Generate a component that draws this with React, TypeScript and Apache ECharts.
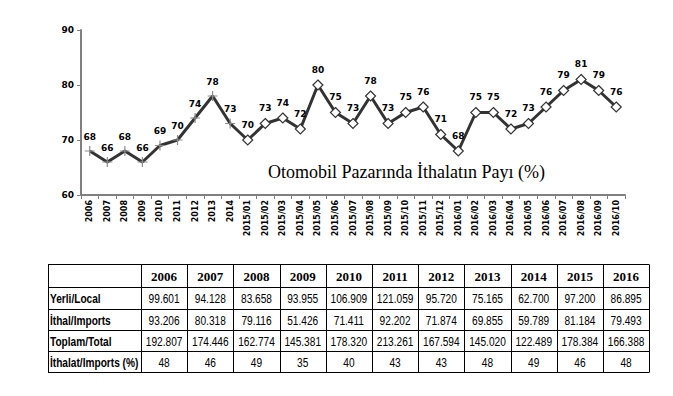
import React, { useEffect, useRef } from "react";
import * as echarts from "echarts";

const categories = [
  "2006", "2007", "2008", "2009", "2010", "2011", "2012", "2013", "2014",
  "2015/01", "2015/02", "2015/03", "2015/04", "2015/05", "2015/06", "2015/07", "2015/08", "2015/09", "2015/10", "2015/11", "2015/12",
  "2016/01", "2016/02", "2016/03", "2016/04", "2016/05", "2016/06", "2016/07", "2016/08", "2016/09", "2016/10",
];
const shareValues = [
  68, 66, 68, 66, 69, 70, 74, 78, 73,
  70, 73, 74, 72, 80, 75, 73, 78, 73, 75, 76, 71,
  68, 75, 75, 72, 73, 76, 79, 81, 79, 76,
];
const annualCount = 9;

const tableYears = ["2006", "2007", "2008", "2009", "2010", "2011", "2012", "2013", "2014", "2015", "2016"];
const rowLabels = ["Yerli/Local", "İthal/Imports", "Toplam/Total", "İthalat/Imports (%)"];
const localRow = ["99.601", "94.128", "83.658", "93.955", "106.909", "121.059", "95.720", "75.165", "62.700", "97.200", "86.895"];
const importsRow = ["93.206", "80.318", "79.116", "51.426", "71.411", "92.202", "71.874", "69.855", "59.789", "81.184", "79.493"];
const totalRow = ["192.807", "174.446", "162.774", "145.381", "178.320", "213.261", "167.594", "145.020", "122.489", "178.384", "166.388"];
const pctRow = ["48", "46", "49", "35", "40", "43", "43", "48", "49", "46", "48"];

const titleText = "Otomobil Pazarında İthalatın Payı (%)";

const plusPath = "path://M4.4,0h1.2v4.4h4.4v1.2h-4.4v4.4h-1.2v-4.4h-4.4v-1.2h4.4z";

function narrowText(text: string, x: number, y: number, align: string, font: string, sx: number) {
  return {
    type: "text",
    x,
    y,
    scaleX: sx,
    style: { text, x: 0, y: 0, align, verticalAlign: "middle", font, fill: "#000" },
    silent: true,
  };
}

function buildTable(): any[] {
  const els: any[] = [];
  const x0 = 48;
  const firstColW = 93;
  const colW = 46.2;
  const x1 = x0 + firstColW + colW * tableYears.length;
  const rowYs = [264, 287, 308.5, 329.5, 350.5, 372];
  const stroke = { stroke: "#000", lineWidth: 1 };
  rowYs.forEach((y) => {
    els.push({ type: "line", shape: { x1: x0, y1: Math.round(y) + 0.5, x2: x1, y2: Math.round(y) + 0.5 }, style: stroke, silent: true });
  });
  const colXs = [x0];
  for (let i = 0; i <= tableYears.length; i++) colXs.push(x0 + firstColW + colW * i);
  colXs.forEach((x) => {
    els.push({ type: "line", shape: { x1: Math.round(x) + 0.5, y1: rowYs[0] + 0.5, x2: Math.round(x) + 0.5, y2: rowYs[rowYs.length - 1] + 0.5 }, style: stroke, silent: true });
  });
  const cellFont = '13px "Liberation Sans", Arial, sans-serif';
  const labelFont = 'bold 13px "Liberation Sans", Arial, sans-serif';
  const headFont = 'bold 13px "Liberation Serif", "Times New Roman", serif';
  tableYears.forEach((yr, i) => {
    els.push({
      type: "text",
      style: { text: yr, x: x0 + firstColW + colW * (i + 0.5), y: (rowYs[0] + rowYs[1]) / 2 + 1, align: "center", verticalAlign: "middle", font: headFont, fill: "#000" },
      silent: true,
    });
  });
  const rows = [localRow, importsRow, totalRow, pctRow];
  rows.forEach((row, r) => {
    const cy = (rowYs[r + 1] + rowYs[r + 2]) / 2 + 0.5;
    els.push(narrowText(rowLabels[r], x0 + 2, cy, "left", labelFont, 0.78));
    row.forEach((v, i) => {
      els.push(narrowText(v, x0 + firstColW + colW * (i + 0.5), cy, "center", cellFont, 0.78));
    });
  });
  return els;
}

export default function App() {
  const ref = useRef<HTMLDivElement>(null);
  useEffect(() => {
    if (!ref.current) return;
    const chart = echarts.init(ref.current, undefined, { renderer: "svg" });
    const data = shareValues.map((v, i) =>
      i < annualCount
        ? { value: v, symbol: plusPath, symbolSize: 10, itemStyle: { color: "#8c8c8c", borderWidth: 0 } }
        : { value: v, symbol: "diamond", symbolSize: 10, itemStyle: { color: "#fff", borderColor: "#333", borderWidth: 1.2 } }
    );
    chart.setOption({
      animation: false,
      backgroundColor: "#fff",
      grid: { left: 81, right: 48, top: 30, bottom: 201, containLabel: false },
      xAxis: {
        type: "category",
        data: categories,
        boundaryGap: true,
        axisLine: { lineStyle: { color: "#808080", width: 2 } },
        axisTick: { show: true, length: 4, lineStyle: { color: "#808080", width: 1 } },
        axisLabel: { interval: 0, rotate: 90, fontSize: 8, fontWeight: "bold", color: "#000", fontFamily: "DejaVu Sans", margin: 5 },
      },
      yAxis: {
        type: "value",
        min: 60,
        max: 90,
        interval: 10,
        splitLine: { show: false },
        axisLine: { show: true, lineStyle: { color: "#808080", width: 2 } },
        axisTick: { show: true, length: 4, lineStyle: { color: "#808080" } },
        axisLabel: { fontSize: 9, fontWeight: "bold", color: "#000", fontFamily: "DejaVu Sans", margin: 7 },
      },
      series: [
        {
          type: "line",
          data,
          showAllSymbol: true,
          lineStyle: { color: "#333", width: 3 },
          itemStyle: { color: "#333" },
          label: { show: true, position: "top", distance: 5, fontSize: 9, fontWeight: "bold", color: "#000", fontFamily: "DejaVu Sans" },
          z: 3,
        },
      ],
      graphic: [
        {
          type: "text",
          style: { text: titleText, x: 268, y: 172, verticalAlign: "middle", font: '18px "Liberation Serif", "Times New Roman", serif', fill: "#000" },
          silent: true,
        },
        ...buildTable(),
      ],
    });
    return () => chart.dispose();
  }, []);
  return <div ref={ref} style={{ width: 673, height: 396, position: "absolute", left: 0, top: 0 }} />;
}
